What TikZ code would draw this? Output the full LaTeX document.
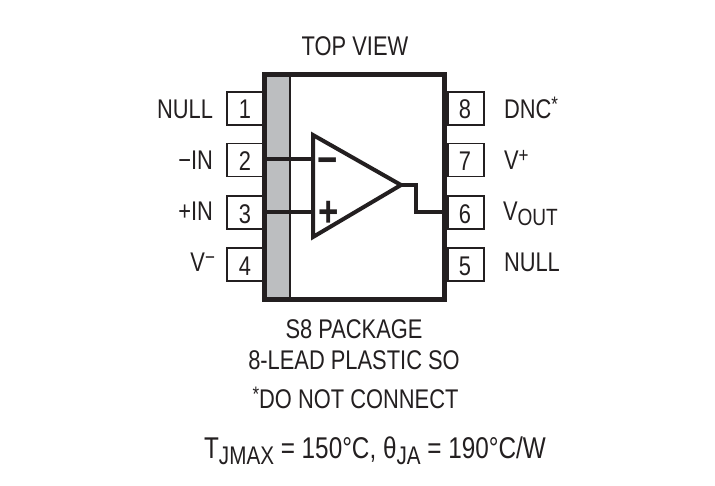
\documentclass[tikz,border=0pt]{standalone}
\usepackage{fontspec}
\setmainfont[FakeStretch=0.81]{Liberation Sans}
\newcommand{\txtsize}{\fontsize{27}{30}\selectfont}
\newcommand{\lowsub}[1]{\raisebox{-5.5pt}{\fontsize{23.5}{24}\selectfont #1}}
\newcommand{\highsup}[1]{\raisebox{7pt}{\fontsize{21}{22}\selectfont #1}}
\newcommand{\bigsub}[1]{\raisebox{-6.5pt}{\fontsize{25.5}{26}\selectfont #1}}
\tikzset{
  x=1pt,y=-1pt,
  lbl/.style={inner sep=0pt,outer sep=0pt,font=\txtsize,text=txt},
  lblr/.style={lbl,anchor=base east},
  lbll/.style={lbl,anchor=base west},
  lblc/.style={lbl,anchor=base},
  sign/.style={lbl,anchor=base,font=\fontsize{43}{43}\selectfont\bfseries},
  pinbox/.style={draw=txt,line width=1.4pt,fill=white,minimum width=36pt,minimum height=33pt,inner sep=0pt,outer sep=0pt},
  body/.style={draw=txt,line width=5pt,minimum width=180pt,minimum height=225pt,inner sep=0pt,outer sep=0pt},
  wire/.style={draw=txt,line width=4pt,miter limit=10},
}
\definecolor{txt}{HTML}{231F20}
\definecolor{band}{HTML}{BCBEC0}
\begin{document}
\begin{tikzpicture}
\useasboundingbox (0,0) rectangle (715,485);
\fill[white] (0,0) rectangle (715,485);
% pin boxes
\node[pinbox] (p1) at (245,108.5) {};
\node[pinbox] (p2) at (245,160) {};
\node[pinbox] (p3) at (245,212.5) {};
\node[pinbox] (p4) at (245,264.5) {};
\node[pinbox] (p8) at (466,108.5) {};
\node[pinbox] (p7) at (466,160) {};
\node[pinbox] (p6) at (466,212.5) {};
\node[pinbox] (p5) at (466,264.5) {};
% package
\node[body,fill=white] (pkg) at (354.5,187) {};
\fill[band] (267,77) rectangle (290,297);
\draw[txt,line width=1.2pt] (290,77) -- (290,297);
\node[body] (pkgoutline) at (354.5,187) {};
% opamp
\coordinate (inm) at (313,159);
\coordinate (inp) at (313,212);
\coordinate (tip) at (401,185);
\coordinate (jog) at (416,185);
\coordinate (jogb) at (416,212);
\draw[wire] (pkg.west |- inm) -- (inm);
\draw[wire] (pkg.west |- inp) -- (inp);
\draw[wire] (tip) -- (jog) -- (jogb) -- (pkg.east |- jogb);
\draw[wire,line join=miter] (313,135) -- (tip) -- (313,237) -- cycle;
\node[sign] (minus) at (328,174) {\textminus};
\node[sign] (plus) at (328.5,226) {+};
% pin numbers
\node[lblc] (n1) at (245,118) {1};
\node[lblc] (n2) at (245,170) {2};
\node[lblc] (n3) at (245,223) {3};
\node[lblc] (n4) at (245,275) {4};
\node[lblc] (n8) at (465,118) {8};
\node[lblc] (n7) at (465,170) {7};
\node[lblc] (n6) at (465,223) {6};
\node[lblc] (n5) at (465,275) {5};
% pin names
\node[lblr] (l1) at (213,118) {NULL};
\node[lblr] (l2) at (213,169) {\textminus IN};
\node[lblr] (l3) at (213,220) {+IN};
\node[lblr] (l4) at (215,271) {V\highsup{\textminus}};
\node[lbll] (r8) at (504,118) {DNC\highsup{*}};
\node[lbll] (r7) at (504,169) {V\highsup{+}};
\node[lbll] (r6) at (503,220) {V\lowsub{OUT}};
\node[lbll] (r5) at (504,271) {NULL};
% captions
\node[lblc] (top) at (355,55) {TOP VIEW};
\node[lblc] (c1) at (354,338) {S8 PACKAGE};
\node[lblc] (c2) at (354,369) {8-LEAD PLASTIC SO};
\node[lblc] (c3) at (355.5,408) {\highsup{*}DO NOT CONNECT};
\node[lblc,font=\fontsize{30}{32}\selectfont] (c4) at (375,458) {T\bigsub{JMAX} = 150°C, θ\bigsub{JA} = 190°C/W};
\end{tikzpicture}
\end{document}
